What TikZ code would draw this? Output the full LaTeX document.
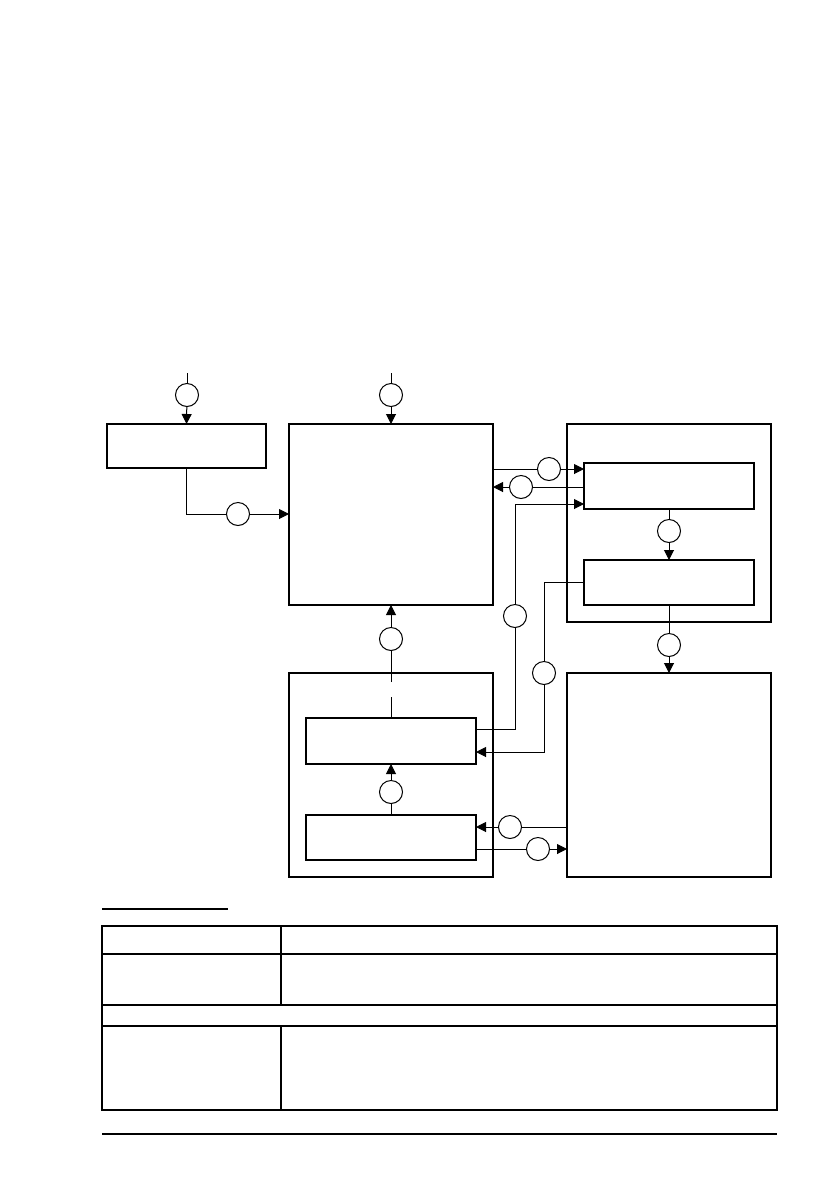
\documentclass[tikz,border=0pt]{standalone}
\usetikzlibrary{arrows.meta}
\tikzset{
  blk/.style={draw, line width=2.4pt, inner sep=0pt, outer sep=0pt, anchor=north west},
  ring/.style={draw, circle, line width=1pt, minimum size=23pt, inner sep=0pt, outer sep=0pt},
  wire/.style={line width=1pt},
  arr/.style={line width=1pt, -{Triangle[length=10pt,width=10pt]}},
  rule/.style={line width=1.3pt}
}
\begin{document}
\begin{tikzpicture}[x=1pt,y=-1pt]
\useasboundingbox (0,0) rectangle (838,1192);
% boxes
\node[blk, minimum width=159pt, minimum height=44pt] (A) at (107,424) {};
\node[blk, minimum width=204pt, minimum height=181pt] (B) at (289,424) {};
\node[blk, minimum width=204pt, minimum height=198pt] (C) at (567,424) {};
\node[blk, minimum width=170pt, minimum height=46pt] (C1) at (584,463) {};
\node[blk, minimum width=170pt, minimum height=45pt] (C2) at (584,560) {};
\node[blk, minimum width=204pt, minimum height=204pt] (D) at (289,673) {};
\node[blk, minimum width=170pt, minimum height=46pt] (D1) at (306,718) {};
\node[blk, minimum width=170pt, minimum height=45pt] (D2) at (306,815) {};
\node[blk, minimum width=204pt, minimum height=204pt] (E) at (567,673) {};
% circles
\node[ring] (cA) at (187,395) {};
\node[ring] (cB) at (391,395) {};
\node[ring] (cAB) at (238,514) {};
\node[ring] (c1) at (549,469) {};
\node[ring] (c2) at (521,487) {};
\node[ring] (c3) at (515,616) {};
\node[ring] (c4) at (544,673) {};
\node[ring] (c5) at (669,531) {};
\node[ring] (c6) at (669,645) {};
\node[ring] (c7) at (391,639) {};
\node[ring] (c8) at (391,792) {};
\node[ring] (c9) at (510,827) {};
\node[ring] (c10) at (538,849) {};
% free ends
\coordinate (inA) at (187,373);
\coordinate (inB) at (391,373);
\coordinate (gapLo) at (391,697);
\coordinate (gapHi) at (391,682);
% connectors
\draw[wire] (inA) -- (cA);
\draw[arr] (cA) -- (A.north);
\draw[wire] (inB) -- (cB);
\draw[arr] (cB) -- (B.north);
\draw[wire] (A.south) |- (cAB);
\draw[arr] (cAB) -- (B.west |- cAB);
\draw[wire] (B.east |- c1) -- (c1);
\draw[arr] (c1) -- (C1.west |- c1);
\draw[wire] (C1.west |- c2) -- (c2);
\draw[arr] (c2) -- (B.east |- c2);
\draw[wire] (D1.east |- 0,729) -| (c3);
\draw[arr] (c3) |- (C1.west |- 0,504);
\draw[wire] (C2.west |- 0,582) -| (c4);
\draw[arr] (c4) |- (D1.east |- 0,752);
\draw[wire] (C1.south) -- (c5);
\draw[arr] (c5) -- (C2.north);
\draw[wire] (C2.south) -- (c6);
\draw[arr] (c6) -- (E.north -| c6);
\draw[wire] (D1.north) -- (gapLo);
\draw[wire] (gapHi) -- (c7);
\draw[arr] (c7) -- (B.south);
\draw[wire] (D2.north) -- (c8);
\draw[arr] (c8) -- (D1.south);
\draw[wire] (E.west |- c9) -- (c9);
\draw[arr] (c9) -- (D2.east |- c9);
\draw[wire] (D2.east |- c10) -- (c10);
\draw[arr] (c10) -- (E.west |- c10);
% table
\draw[rule] (102,909) -- (228,909);
\draw[rule] (102,926) rectangle (777,1110);
\draw[rule] (102,954) -- (777,954);
\draw[rule] (102,1005) -- (777,1005);
\draw[rule] (102,1026) -- (777,1026);
\draw[rule] (281,926) -- (281,1005);
\draw[rule] (281,1026) -- (281,1110);
\draw[rule] (102,1134) -- (777,1134);
\end{tikzpicture}
\end{document}
